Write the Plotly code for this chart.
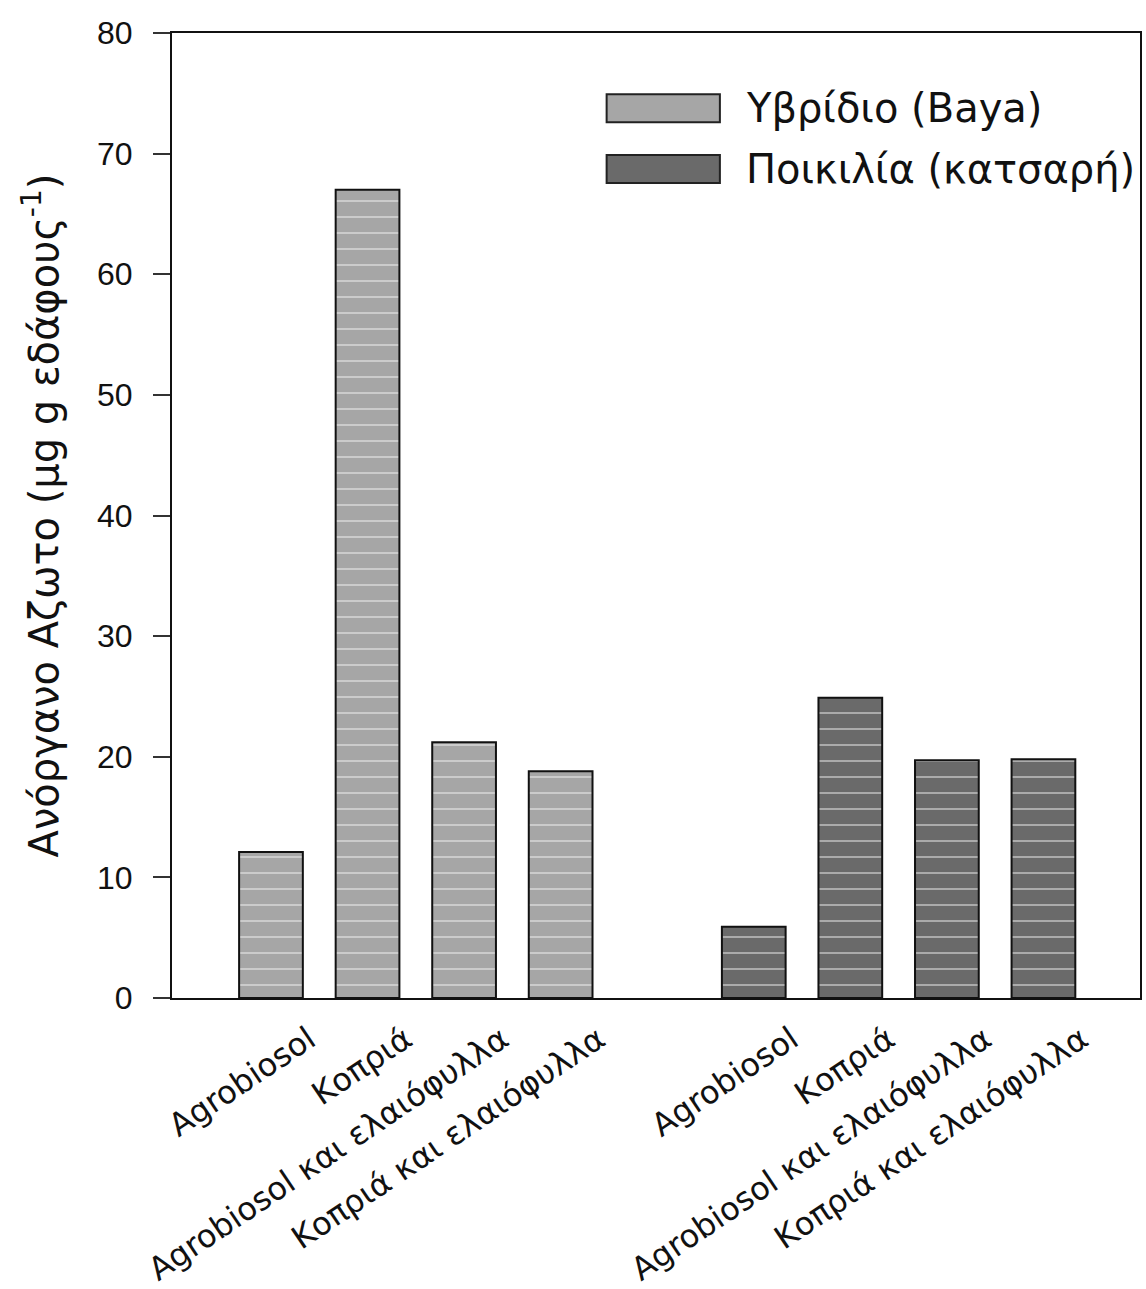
import plotly.graph_objects as go

# Treatments per cultivar
treatments = ["Agrobiosol", "Κοπριά", "Agrobiosol και ελαιόφυλλα", "Κοπριά και ελαιόφυλλα"]
series_names = ["Υβρίδιο (Baya)", "Ποικιλία (κατσαρή)"]

# Inorganic nitrogen (μg g soil^-1)
hybrid_values = [12.1, 67.0, 21.2, 18.8]
variety_values = [5.9, 24.9, 19.7, 19.8]

y_ticks = [0, 10, 20, 30, 40, 50, 60, 70, 80]

# slot positions: four bars, one empty slot, four bars
hybrid_x = [0, 1, 2, 3]
variety_x = [5, 6, 7, 8]

colors = ["#a6a6a6", "#6a6a6a"]

fig = go.Figure()
for name, xs, vals, col in [
    (series_names[0], hybrid_x, hybrid_values, colors[0]),
    (series_names[1], variety_x, variety_values, colors[1]),
]:
    fig.add_trace(go.Bar(
        x=xs, y=vals, name=name, width=0.66,
        marker=dict(
            color=col,
            line=dict(color="#111111", width=2),
            pattern=dict(shape="-", fgcolor="#f2f2f2", bgcolor=col,
                         size=16, solidity=0.12, fillmode="overlay"),
        ),
        showlegend=False,
    ))

# legend keys drawn as wide swatches with labels
legend_rows = [0.922, 0.859]
for name, col, yy in zip(series_names, colors, legend_rows):
    fig.add_shape(type="rect", xref="paper", yref="paper",
                  x0=0.449, x1=0.566, y0=yy - 0.0145, y1=yy + 0.0145,
                  fillcolor=col, line=dict(color="#222222", width=2))
    fig.add_annotation(text=name, xref="paper", yref="paper",
                       x=0.591, y=yy, xanchor="left", yanchor="middle",
                       showarrow=False,
                       font=dict(family="DejaVu Sans", size=40, color="#111111"))

fig.update_layout(
    width=1146, height=1289,
    margin=dict(l=172, r=6, t=33, b=291),
    paper_bgcolor="white", plot_bgcolor="white",
    font=dict(family="Liberation Sans, Arial", color="#111111"),
)

fig.update_xaxes(
    range=[-1.025, 9.0],
    tickmode="array",
    tickvals=hybrid_x + variety_x,
    ticktext=treatments + treatments,
    tickangle=-34,
    tickfont=dict(family="DejaVu Sans", size=32, color="#111111"),
    ticklabelshift=38, ticklabelstandoff=8,
    showline=True, linecolor="#111111", linewidth=2, mirror=True,
    ticks="", showgrid=False, zeroline=False,
    automargin=False,
)

fig.update_yaxes(
    range=[0, 80],
    tickmode="array", tickvals=y_ticks,
    ticks="outside", ticklen=17, tickwidth=2, tickcolor="#333333",
    tickfont=dict(family="Liberation Sans, Arial", size=32, color="#111111"),
    ticklabelstandoff=14,
    showline=True, linecolor="#111111", linewidth=2, mirror=True,
    showgrid=False, zeroline=False,
    automargin=False,
    title=dict(text="Ανόργανο Αζωτο (μg g εδάφους<sup>-1</sup>)",
               font=dict(family="DejaVu Sans", size=40, color="#111111"),
               standoff=26),
)

fig.write_html("out.html")
